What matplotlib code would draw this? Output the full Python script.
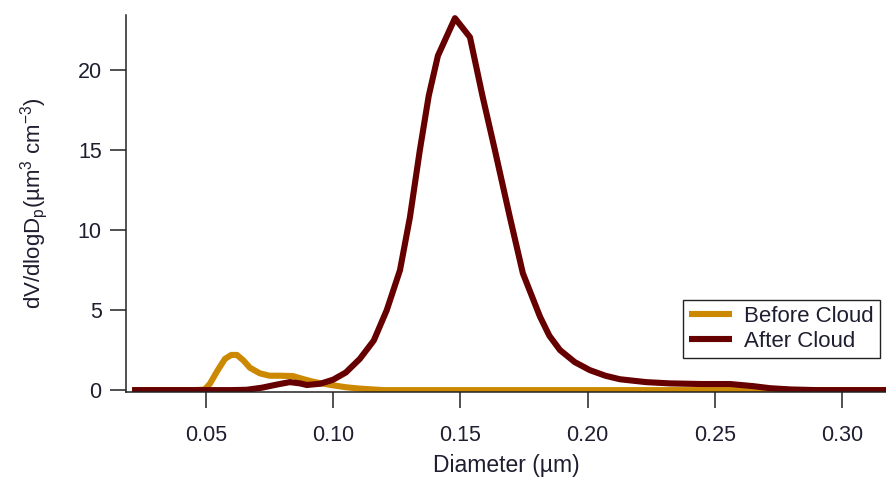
import matplotlib
matplotlib.use("Agg")
import matplotlib.pyplot as plt

# size distributions, diameter in um, dV/dlogDp in um^3 cm^-3
before_x = [0.021, 0.045, 0.0495, 0.0516, 0.0545, 0.0575, 0.0600, 0.0622, 0.0648, 0.0673,
            0.0712, 0.0750, 0.0791, 0.0842, 0.0880, 0.0915, 0.0948, 0.1000, 0.1050,
            0.1100, 0.1157, 0.1200, 0.3180]
before_y = [0.0, 0.0, 0.03, 0.4, 1.2, 1.95, 2.2, 2.2, 1.85, 1.4,
            1.05, 0.9, 0.9, 0.88, 0.7, 0.55, 0.44, 0.3, 0.18,
            0.1, 0.04, 0.0, 0.0]

after_x = [0.021, 0.040, 0.060, 0.066, 0.072, 0.078, 0.083, 0.087, 0.0897, 0.095,
           0.100, 0.105, 0.1105, 0.116, 0.1211, 0.1263, 0.1302, 0.1341, 0.1376, 0.1412,
           0.1479, 0.1538, 0.1587, 0.1636, 0.1695, 0.1746, 0.1813, 0.1850, 0.1892, 0.1950,
           0.2009, 0.2070, 0.2127, 0.2230, 0.2324, 0.2450, 0.2560, 0.2650, 0.2717, 0.2800,
           0.2900, 0.3180]
after_y = [0.0, 0.0, 0.0, 0.02, 0.15, 0.35, 0.5, 0.42, 0.32, 0.4,
           0.65, 1.1, 1.95, 3.1, 5.0, 7.5, 10.8, 15.0, 18.4, 20.9,
           23.25, 22.06, 18.4, 15.0, 10.8, 7.3, 4.6, 3.4, 2.5, 1.75,
           1.25, 0.9, 0.68, 0.5, 0.42, 0.38, 0.38, 0.25, 0.12, 0.04,
           0.0, 0.0]

x_ticks = [0.05, 0.10, 0.15, 0.20, 0.25, 0.30]
y_ticks = [0, 5, 10, 15, 20]

text_color = '#1e1e30'
plt.rcParams['font.family'] = ['Liberation Sans', 'DejaVu Sans']
plt.rcParams['mathtext.fontset'] = 'custom'
plt.rcParams['mathtext.rm'] = 'Liberation Sans'

fig = plt.figure(figsize=(8.87, 4.83), dpi=100)
ax = fig.add_axes([0.142, 0.188, 0.858, 0.781])

ax.plot(before_x, before_y, color='#CC8800', lw=4.4, label='Before Cloud',
        solid_joinstyle='round', solid_capstyle='butt')
ax.plot(after_x, after_y, color='#660000', lw=4.4, label='After Cloud',
        solid_joinstyle='round', solid_capstyle='butt')

ax.set_xlim(0.0186, 0.3177)
ax.set_ylim(-0.13, 23.45)
ax.set_xticks(x_ticks)
ax.set_xticklabels([f'{v:.2f}' for v in x_ticks])
ax.set_yticks(y_ticks)

for side in ['top', 'right']:
    ax.spines[side].set_visible(False)
for side in ['left', 'bottom']:
    ax.spines[side].set_linewidth(1.1)
    ax.spines[side].set_color('#222222')

ax.tick_params(axis='both', direction='out', length=11.5, width=1.1,
               color='#222222', labelsize=15.5, labelcolor=text_color)
ax.tick_params(axis='x', pad=12)
ax.tick_params(axis='y', pad=6)

ax.set_xlabel('Diameter (µm)', fontsize=16.5, color=text_color, labelpad=6)
ax.set_ylabel(r'dV/dlogD$_\mathregular{p}$(µm$^\mathregular{3}$ cm$^\mathregular{-3}$)',
              fontsize=16, color=text_color, labelpad=20)

leg = ax.legend(loc='lower right', bbox_to_anchor=(0.991, 0.09), fontsize=16,
                frameon=True, fancybox=False, framealpha=1, edgecolor='#222222',
                handlelength=1.9, handletextpad=0.55, labelspacing=0.15,
                borderpad=0.3, borderaxespad=0)
leg.get_frame().set_linewidth(1.0)
for t in leg.get_texts():
    t.set_color(text_color)

fig.savefig('out.png', dpi=100)
